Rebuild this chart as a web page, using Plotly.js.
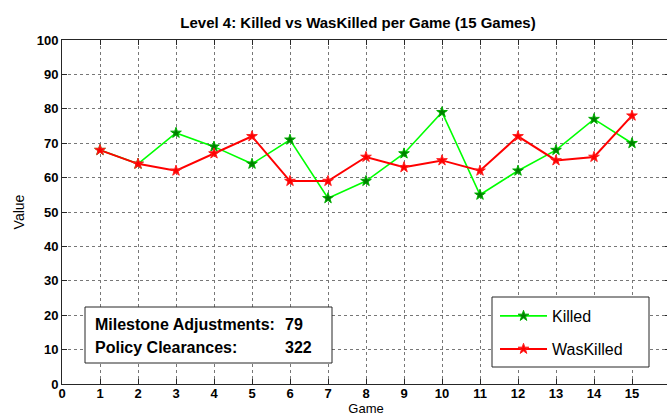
<!DOCTYPE html>
<html>
<head>
<meta charset="utf-8">
<script src="https://cdn.plot.ly/plotly-3.0.1.min.js"></script>
<style>
html,body{margin:0;padding:0;overflow:hidden;background:#fff;}
#chart{width:672px;height:416px;}
</style>
</head>
<body>
<div id="chart"></div>
<script>
// ---- data ----
const games = [1,2,3,4,5,6,7,8,9,10,11,12,13,14,15];
const killed = [68,64,73,69,64,71,54,59,67,79,55,62,68,77,70];
const wasKilled = [68,64,62,67,72,59,59,66,63,65,62,72,65,66,78];
const xTickVals = [0,1,2,3,4,5,6,7,8,9,10,11,12,13,14,15];
const statLabels = ['Milestone Adjustments:', 'Policy Clearances:'];
const statValues = [79, 322];
const titleText = 'Level 4: Killed vs WasKilled per Game (15 Games)';

// pixel helpers for layout (plot area: left 62, top 40, width 608, height 344)
const L = 62, T = 40, W = 608, H = 344;
const px = v => (v - L) / W;
const py = v => (T + H - v) / H;

const traces = [
  {
    x: games, y: killed, name: 'Killed', type: 'scatter', mode: 'lines+markers',
    line: {color: '#00ff00', width: 1.6},
    marker: {symbol: 'star', size: 8, color: '#007f00', line: {color: '#00b000', width: 1}},
    legend: 'legend'
  },
  {
    x: games, y: wasKilled, name: 'WasKilled', type: 'scatter', mode: 'lines+markers',
    line: {color: '#ff0000', width: 2},
    marker: {symbol: 'star', size: 8, color: '#ff0000', line: {color: '#ff2020', width: 1}},
    legend: 'legend2'
  }
];

const annotations = [];
statLabels.forEach((lab, i) => {
  const yy = py(324 + i * 23);
  annotations.push({xref: 'paper', yref: 'paper', x: px(93), y: yy, xanchor: 'left', yanchor: 'middle',
    text: '<b>' + lab + '</b>', showarrow: false, font: {family: 'Liberation Sans, Arial', size: 16, color: '#000'}});
  annotations.push({xref: 'paper', yref: 'paper', x: px(283), y: yy, xanchor: 'left', yanchor: 'middle',
    text: '<b>' + statValues[i] + '</b>', showarrow: false, font: {family: 'Liberation Sans, Arial', size: 16, color: '#000'}});
});

const legendCommon = {
  xanchor: 'left', yanchor: 'middle', bgcolor: 'rgba(0,0,0,0)', borderwidth: 0,
  font: {family: 'Liberation Sans, Arial', size: 16, color: '#000'}, itemwidth: 47
};

const layout = {
  width: 672, height: 416,
  margin: {l: L, r: 672 - L - W, t: T, b: 416 - T - H, pad: 0},
  paper_bgcolor: '#fff', plot_bgcolor: '#fff',
  showlegend: true,
  title: {text: '<b>' + titleText + '</b>', x: px(358), xanchor: 'center', xref: 'paper',
          y: 1 - 23 / 416, yanchor: 'middle', yref: 'container',
          font: {family: 'Liberation Sans, Arial', size: 15, color: '#000'}},
  xaxis: {
    range: [0, 16], tickvals: xTickVals, ticktext: xTickVals.map(String),
    ticks: 'inside', ticklen: 5, tickcolor: '#262626', tickwidth: 1,
    showline: true, linecolor: '#262626', linewidth: 1, mirror: 'ticks',
    showgrid: true, gridcolor: '#777', griddash: 'dot', gridwidth: 1, zeroline: false,
    ticklabelstandoff: -3,
    tickfont: {family: 'Liberation Sans, Arial', size: 13, color: '#000', weight: 'bold'},
    title: {text: 'Game', standoff: 10, font: {family: 'Liberation Sans, Arial', size: 13, color: '#000'}}
  },
  yaxis: {
    range: [0, 100], dtick: 10, tick0: 0,
    ticks: 'inside', ticklen: 5, tickcolor: '#262626', tickwidth: 1,
    showline: true, linecolor: '#262626', linewidth: 1, mirror: 'ticks',
    showgrid: true, gridcolor: '#777', griddash: 'dot', gridwidth: 1, zeroline: false,
    tickfont: {family: 'Liberation Sans, Arial', size: 13, color: '#000', weight: 'bold'},
    title: {text: 'Value', standoff: 8, font: {family: 'Liberation Sans, Arial', size: 14, color: '#000'}}
  },
  legend: Object.assign({x: px(495), y: py(316)}, legendCommon),
  legend2: Object.assign({x: px(495), y: py(349)}, legendCommon),
  shapes: [
    {type: 'rect', xref: 'paper', yref: 'paper', x0: px(85), x1: px(332), y0: py(363), y1: py(307),
     line: {color: '#262626', width: 1}, fillcolor: '#fff', layer: 'above'},
    {type: 'rect', xref: 'paper', yref: 'paper', x0: px(492), x1: px(649), y0: py(367), y1: py(297),
     line: {color: '#262626', width: 1}, fillcolor: '#fff', layer: 'above'}
  ],
  annotations: annotations
};

Plotly.newPlot('chart', traces, layout, {displayModeBar: false, staticPlot: true});
</script>
</body>
</html>
